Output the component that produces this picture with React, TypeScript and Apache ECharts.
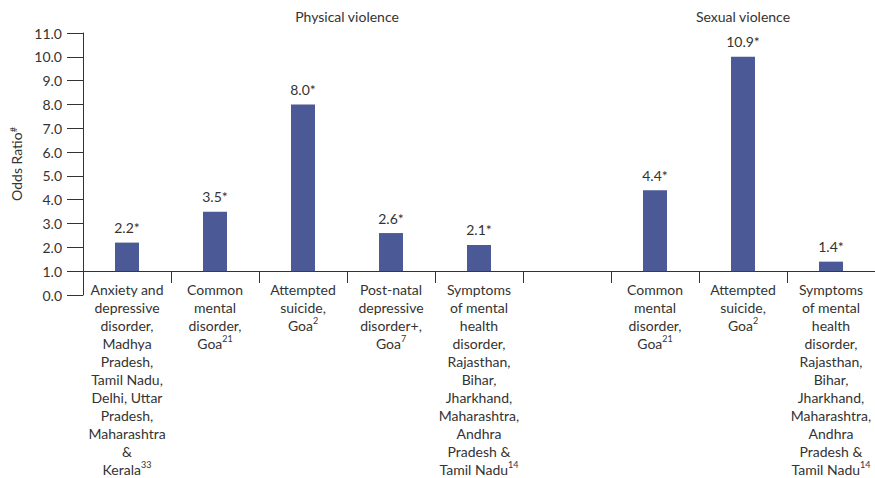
import React, { useEffect, useRef } from "react";
import * as echarts from "echarts";

// Categories (label text) and their reference superscripts
const categories = [
  "Anxiety and\ndepressive\ndisorder,\nMadhya\nPradesh,\nTamil Nadu,\nDelhi, Uttar\nPradesh,\nMaharashtra\n&\nKerala",
  "Common\nmental\ndisorder,\nGoa",
  "Attempted\nsuicide,\nGoa",
  "Post-natal\ndepressive\ndisorder+,\nGoa",
  "Symptoms\nof mental\nhealth\ndisorder,\nRajasthan,\nBihar,\nJharkhand,\nMaharashtra,\nAndhra\nPradesh &\nTamil Nadu",
  "",
  "Common\nmental\ndisorder,\nGoa",
  "Attempted\nsuicide,\nGoa",
  "Symptoms\nof mental\nhealth\ndisorder,\nRajasthan,\nBihar,\nJharkhand,\nMaharashtra,\nAndhra\nPradesh &\nTamil Nadu",
];
const references = ["33", "21", "2", "7", "14", "", "21", "2", "14"];

// Odds ratios as printed above the bars
const oddsRatios = [2.2, 3.5, 8.0, 2.6, 2.1, null, 4.4, 10.9, 1.4];
// Bar tops as drawn in the picture (the 10.9 bar is drawn to 10.0)
const barTops = [2.2, 3.5, 8.0, 2.6, 2.1, null, 4.4, 10.0, 1.4];
// Bars rise from the axis line at 1.0
const baseline = 1.0;

const yTicks = { min: 0, max: 11, interval: 1 };
const groupTitles = ["Physical violence", "Sexual violence"];

const FONT = "Lato";
const TEXT = "#333333";
const BAR = "#4b5996";

export default function App() {
  const ref = useRef<HTMLDivElement>(null);

  useEffect(() => {
    if (!ref.current) return;
    const chart = echarts.init(ref.current, null, { renderer: "svg" });
    const gridTop = 33;
    const gridBottom = 181;
    const gridHeight = 478 - gridTop - gridBottom;
    const unit = gridHeight / (yTicks.max - yTicks.min);

    chart.setOption({
      animation: false,
      textStyle: { fontFamily: FONT },
      grid: { left: 83, right: 0, top: gridTop, bottom: gridBottom, containLabel: false },
      graphic: [
        {
          type: "text",
          x: 347,
          y: 16,
          style: { text: groupTitles[0], font: `14px ${FONT}`, fill: TEXT, align: "center", verticalAlign: "middle" },
        },
        {
          type: "text",
          x: 743,
          y: 16,
          style: { text: groupTitles[1], font: `14px ${FONT}`, fill: TEXT, align: "center", verticalAlign: "middle" },
        },
      ],
      xAxis: {
        type: "category",
        data: categories.map((c, i) => ({ value: `${i}`, textStyle: {} })),
        position: "bottom",
        offset: -baseline * unit,
        axisLine: { show: true, onZero: false, lineStyle: { color: TEXT, width: 1 } },
        axisTick: { show: true, length: 12, alignWithLabel: false, lineStyle: { color: TEXT } },
        axisLabel: {
          interval: 0,
          margin: 9,
          color: TEXT,
          fontSize: 14,
          lineHeight: 18,
          fontFamily: FONT,
          align: "center",
          hideOverlap: false,
          formatter: (_v: string, idx: number) =>
            references[idx] ? `${categories[idx]}{sup|${references[idx]}}` : categories[idx],
          rich: {
            sup: { fontSize: 9, lineHeight: 10, verticalAlign: "top", color: TEXT, fontFamily: FONT },
          },
        },
        splitLine: { show: false },
      },
      yAxis: {
        type: "value",
        min: yTicks.min,
        max: yTicks.max,
        interval: yTicks.interval,
        name: "Odds Ratio{sup|#}",
        nameLocation: "middle",
        nameRotate: 90,
        nameGap: 56,
        nameTextStyle: {
          color: TEXT,
          fontSize: 14,
          fontFamily: FONT,
          rich: { sup: { fontSize: 9, lineHeight: 10, verticalAlign: "top", color: TEXT, fontFamily: FONT } },
        },
        axisLine: { show: true, lineStyle: { color: TEXT, width: 1 } },
        axisTick: { show: true, length: 16, lineStyle: { color: TEXT } },
        axisLabel: {
          color: TEXT,
          fontSize: 14,
          fontFamily: FONT,
          margin: 21,
          formatter: (v: number) => v.toFixed(1),
        },
        splitLine: { show: false },
      },
      series: [
        {
          type: "bar",
          stack: "or",
          barWidth: 24,
          silent: true,
          itemStyle: { color: "rgba(0,0,0,0)" },
          data: barTops.map((v) => (v == null ? null : baseline)),
        },
        {
          type: "bar",
          stack: "or",
          barWidth: 24,
          itemStyle: { color: BAR },
          data: barTops.map((v) => (v == null ? null : +(v - baseline).toFixed(2))),
          label: {
            show: true,
            position: "top",
            distance: 8,
            color: TEXT,
            fontSize: 14,
            fontFamily: FONT,
            formatter: (p: any) => {
              const v = oddsRatios[p.dataIndex];
              return v == null ? "" : `${v.toFixed(1)}*`;
            },
          },
        },
      ],
    });
    return () => chart.dispose();
  }, []);

  return (
    <div
      ref={ref}
      style={{ position: "fixed", left: 0, top: 0, width: 875, height: 478, background: "#fff" }}
    />
  );
}
